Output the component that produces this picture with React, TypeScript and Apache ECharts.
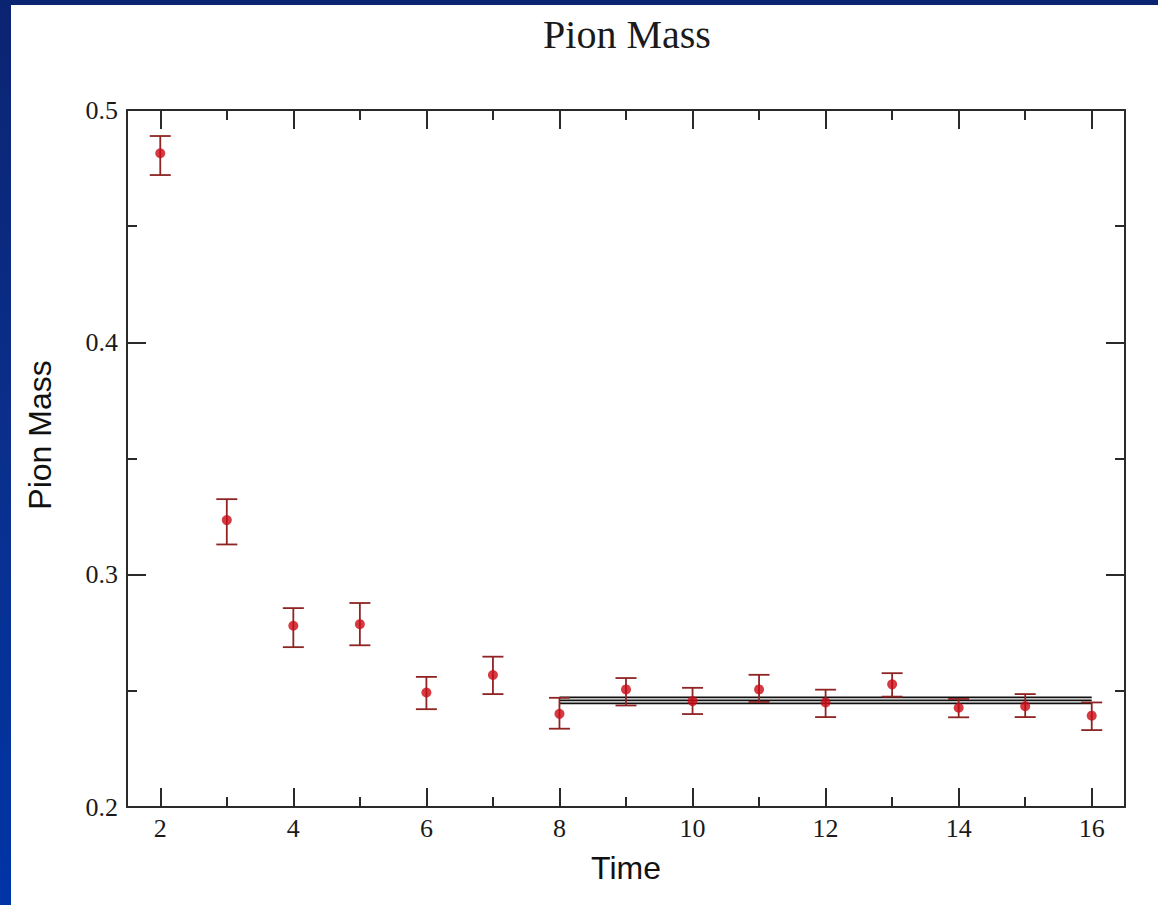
import React, { useEffect, useRef } from "react";
import * as echarts from "echarts";

const times = [2, 3, 4, 5, 6, 7, 8, 9, 10, 11, 12, 13, 14, 15, 16];
const mass = [0.4814, 0.3235, 0.278, 0.2787, 0.2493, 0.2568, 0.2401, 0.2506, 0.2456, 0.2506, 0.245, 0.2528, 0.2427, 0.2434, 0.2393];
const errLow = [0.472, 0.313, 0.2688, 0.2696, 0.2421, 0.2486, 0.2337, 0.2437, 0.24, 0.2452, 0.2387, 0.2475, 0.2386, 0.2387, 0.2331];
const errHigh = [0.4888, 0.3325, 0.2856, 0.2878, 0.256, 0.2647, 0.247, 0.2555, 0.2513, 0.2569, 0.2505, 0.2576, 0.2465, 0.2486, 0.245];
const fitLevels = [0.2472, 0.2459, 0.2446];
const fitRange = [8, 16];
const majorX = [2, 4, 6, 8, 10, 12, 14, 16];
const minorX = [3, 5, 7, 9, 11, 13, 15];

const SERIF = "'Liberation Serif', 'Times New Roman', serif";
const SANS = "'Liberation Sans', Arial, sans-serif";
const AX = "#2a2a2a";

function xAxisDef(position: "top" | "bottom", ticks: number[], len: number, labels: boolean, line: boolean) {
  return {
    type: "value",
    position,
    min: 1.5,
    max: 16.5,
    axisLine: { show: line, onZero: false, lineStyle: { color: AX, width: 2 } },
    axisTick: { show: true, inside: true, length: len, customValues: ticks, lineStyle: { color: AX, width: 2 } },
    axisLabel: labels
      ? { show: true, customValues: ticks, fontFamily: SERIF, fontSize: 26, color: "#1a1a1a", margin: 8 }
      : { show: false },
    splitLine: { show: false },
  };
}

function yAxisDef(position: "left" | "right", labels: boolean) {
  return {
    type: "value",
    position,
    min: 0.2,
    max: 0.5,
    interval: 0.1,
    axisLine: { show: true, onZero: false, lineStyle: { color: AX, width: 2 } },
    axisTick: { show: true, inside: true, length: 19, lineStyle: { color: AX, width: 2 } },
    minorTick: { show: true, splitNumber: 2, length: 10, lineStyle: { color: AX, width: 2 } },
    axisLabel: labels
      ? { show: true, fontFamily: SERIF, fontSize: 26, color: "#1a1a1a", margin: 9, formatter: (v: number) => v.toFixed(1) }
      : { show: false },
    splitLine: { show: false },
    minorSplitLine: { show: false },
  };
}

export default function App() {
  const ref = useRef<HTMLDivElement>(null);
  useEffect(() => {
    if (!ref.current) return;
    const chart = echarts.init(ref.current, undefined, { renderer: "svg" });
    const errData = times.map((t, i) => [t, errLow[i], errHigh[i]]);
    const ptData = times.map((t, i) => [t, mass[i]]);
    const fitSeries = fitLevels.map((v) => ({
      type: "line",
      xAxisIndex: 0,
      yAxisIndex: 0,
      data: [
        [fitRange[0], v],
        [fitRange[1], v],
      ],
      symbol: "none",
      lineStyle: { color: "#111", width: 1.6 },
      z: 3,
    }));
    chart.setOption({
      animation: false,
      backgroundColor: "#ffffff",
      grid: { left: 116, right: 33, top: 105, bottom: 98, containLabel: false },
      xAxis: [
        xAxisDef("bottom", majorX, 19, true, true),
        xAxisDef("bottom", minorX, 10, false, false),
        xAxisDef("top", majorX, 19, false, true),
        xAxisDef("top", minorX, 10, false, false),
      ],
      yAxis: [yAxisDef("left", true), yAxisDef("right", false)],
      graphic: [
        {
          type: "text",
          x: 616,
          y: 29,
          style: { text: "Pion Mass", font: `40px ${SERIF}`, fill: "#1a1a1a", align: "center", verticalAlign: "middle" },
        },
        {
          type: "text",
          x: 29,
          y: 430,
          rotation: Math.PI / 2,
          style: { text: "Pion Mass", font: `32px ${SANS}`, fill: "#111", align: "center", verticalAlign: "middle" },
        },
        {
          type: "text",
          x: 615,
          y: 863,
          style: { text: "Time", font: `32px ${SANS}`, fill: "#111", align: "center", verticalAlign: "middle" },
        },
      ],
      series: [
        ...fitSeries,
        {
          type: "custom",
          xAxisIndex: 0,
          yAxisIndex: 0,
          data: errData,
          encode: { x: 0, y: [1, 2] },
          z: 4,
          renderItem: (params: any, api: any) => {
            const x = api.value(0);
            const lo = api.coord([x, api.value(1)]);
            const hi = api.coord([x, api.value(2)]);
            const hw = 10.5;
            const style = { stroke: "#8e2424", lineWidth: 1.8 };
            return {
              type: "group",
              children: [
                { type: "line", shape: { x1: lo[0], y1: lo[1], x2: hi[0], y2: hi[1] }, style },
                { type: "line", shape: { x1: lo[0] - hw, y1: lo[1], x2: lo[0] + hw, y2: lo[1] }, style },
                { type: "line", shape: { x1: hi[0] - hw, y1: hi[1], x2: hi[0] + hw, y2: hi[1] }, style },
              ],
            };
          },
        },
        {
          type: "scatter",
          xAxisIndex: 0,
          yAxisIndex: 0,
          data: ptData,
          symbol: "circle",
          symbolSize: 10,
          itemStyle: { color: "#cc0a14" },
          z: 5,
        },
      ],
    });
    return () => chart.dispose();
  }, []);
  return (
    <div
      style={{
        position: "fixed",
        left: 0,
        top: 0,
        width: 1158,
        height: 905,
        background: "linear-gradient(180deg, #0b2472 0%, #0a2f8c 50%, #0035a6 100%)",
      }}
    >
      <div ref={ref} style={{ position: "absolute", left: 11, top: 5, width: 1147, height: 900, background: "#fff" }} />
    </div>
  );
}
